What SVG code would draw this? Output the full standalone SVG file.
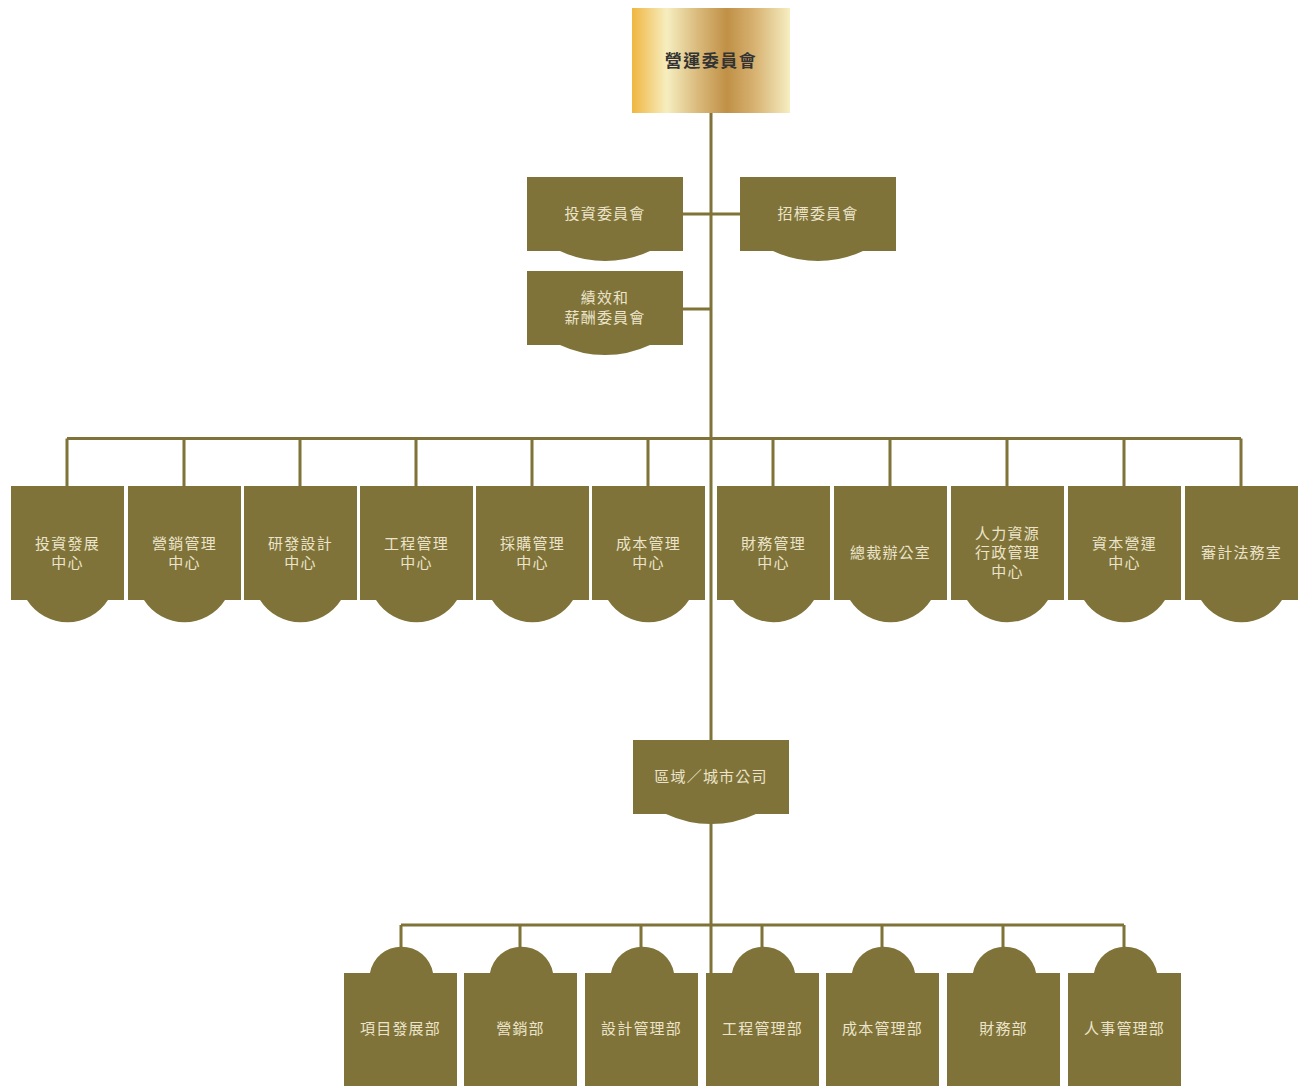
<svg xmlns="http://www.w3.org/2000/svg" xmlns:xlink="http://www.w3.org/1999/xlink" width="1303" height="1086" viewBox="0 0 1303 1086">
<style>
.ln{stroke:#7f7339;stroke-width:3;fill:none}
.bx{fill:#7f7339}
.t{font-family:"Noto Sans CJK TC","Noto Sans CJK SC",sans-serif;font-size:15px;fill:#ebe4ca;text-anchor:middle;dominant-baseline:central;letter-spacing:1.2px}
.tt{font-family:"Noto Sans CJK TC","Noto Sans CJK SC",sans-serif;font-size:17px;font-weight:bold;fill:#333;text-anchor:middle;dominant-baseline:central;letter-spacing:1.5px}
</style>
<defs>
<linearGradient id="gold" x1="0" y1="0" x2="1" y2="0">
<stop offset="0" stop-color="#f0b640"/>
<stop offset="0.22" stop-color="#f6eec0"/>
<stop offset="0.42" stop-color="#d9b97a"/>
<stop offset="0.6" stop-color="#c09046"/>
<stop offset="0.78" stop-color="#d8b373"/>
<stop offset="1" stop-color="#f6eec2"/>
</linearGradient>
<path id="cm" d="M0 0h156v74h-33A106 106 0 0 1 33 74H0z"/>
<path id="mid" d="M0 0h113v114h-16A48 48 0 0 1 16 114H0z"/>
<path id="bot" d="M0 0h26A32 32 0 0 1 89 0h24v113H0z"/>
</defs>
<g id="connectors" class="ln">
<path d="M711 113V973"/>
<path d="M683 214H740"/>
<path d="M683 309H711"/>
<path d="M67 438.5H1241"/>
<path d="M67 438.5V486M184 438.5V486M300 438.5V486M416 438.5V486M532 438.5V486M648 438.5V486M773 438.5V486M890 438.5V486M1007 438.5V486M1124 438.5V486M1241 438.5V486"/>
<path d="M401 925H1124"/>
<path d="M401 925V948M520 925V948M641 925V948M762 925V948M882 925V948M1003 925V948M1124 925V948"/>
</g>
<g id="n-top"><rect x="632" y="8" width="158" height="105" fill="url(#gold)"/><text class="tt" x="711" y="59.5">營運委員會</text></g>
<g id="n-invest" class="bx"><use xlink:href="#cm" x="527" y="177"/><text class="t" x="605" y="212">投資委員會</text></g>
<g id="n-bid" class="bx"><use xlink:href="#cm" x="740" y="177"/><text class="t" x="818" y="212">招標委員會</text></g>
<g id="n-perf" class="bx"><use xlink:href="#cm" x="527" y="271"/><text class="t" x="605" y="296">績效和</text><text class="t" x="605" y="316">薪酬委員會</text></g>
<g id="n-m1" class="bx"><use xlink:href="#mid" x="11" y="486"/><text class="t" x="67.5" y="542">投資發展</text><text class="t" x="67.5" y="561">中心</text></g>
<g id="n-m2" class="bx"><use xlink:href="#mid" x="128" y="486"/><text class="t" x="184.5" y="542">營銷管理</text><text class="t" x="184.5" y="561">中心</text></g>
<g id="n-m3" class="bx"><use xlink:href="#mid" x="244" y="486"/><text class="t" x="300.5" y="542">研發設計</text><text class="t" x="300.5" y="561">中心</text></g>
<g id="n-m4" class="bx"><use xlink:href="#mid" x="360" y="486"/><text class="t" x="416.5" y="542">工程管理</text><text class="t" x="416.5" y="561">中心</text></g>
<g id="n-m5" class="bx"><use xlink:href="#mid" x="476" y="486"/><text class="t" x="532.5" y="542">採購管理</text><text class="t" x="532.5" y="561">中心</text></g>
<g id="n-m6" class="bx"><use xlink:href="#mid" x="592" y="486"/><text class="t" x="648.5" y="542">成本管理</text><text class="t" x="648.5" y="561">中心</text></g>
<g id="n-m7" class="bx"><use xlink:href="#mid" x="717" y="486"/><text class="t" x="773.5" y="542">財務管理</text><text class="t" x="773.5" y="561">中心</text></g>
<g id="n-m8" class="bx"><use xlink:href="#mid" x="834" y="486"/><text class="t" x="890.5" y="551">總裁辦公室</text></g>
<g id="n-m9" class="bx"><use xlink:href="#mid" x="951" y="486"/><text class="t" x="1007.5" y="532">人力資源</text><text class="t" x="1007.5" y="551">行政管理</text><text class="t" x="1007.5" y="570">中心</text></g>
<g id="n-m10" class="bx"><use xlink:href="#mid" x="1068" y="486"/><text class="t" x="1124.5" y="542">資本營運</text><text class="t" x="1124.5" y="561">中心</text></g>
<g id="n-m11" class="bx"><use xlink:href="#mid" x="1185" y="486"/><text class="t" x="1241.5" y="551">審計法務室</text></g>
<g id="n-region" class="bx"><use xlink:href="#cm" x="633" y="740"/><text class="t" x="711" y="775">區域／城市公司</text></g>
<g id="n-b1" class="bx"><use xlink:href="#bot" x="344" y="973"/><text class="t" x="400.5" y="1027">項目發展部</text></g>
<g id="n-b2" class="bx"><use xlink:href="#bot" x="464" y="973"/><text class="t" x="520.5" y="1027">營銷部</text></g>
<g id="n-b3" class="bx"><use xlink:href="#bot" x="585" y="973"/><text class="t" x="641.5" y="1027">設計管理部</text></g>
<g id="n-b4" class="bx"><use xlink:href="#bot" x="706" y="973"/><text class="t" x="762.5" y="1027">工程管理部</text></g>
<g id="n-b5" class="bx"><use xlink:href="#bot" x="826" y="973"/><text class="t" x="882.5" y="1027">成本管理部</text></g>
<g id="n-b6" class="bx"><use xlink:href="#bot" x="947" y="973"/><text class="t" x="1003.5" y="1027">財務部</text></g>
<g id="n-b7" class="bx"><use xlink:href="#bot" x="1068" y="973"/><text class="t" x="1124.5" y="1027">人事管理部</text></g>
</svg>
